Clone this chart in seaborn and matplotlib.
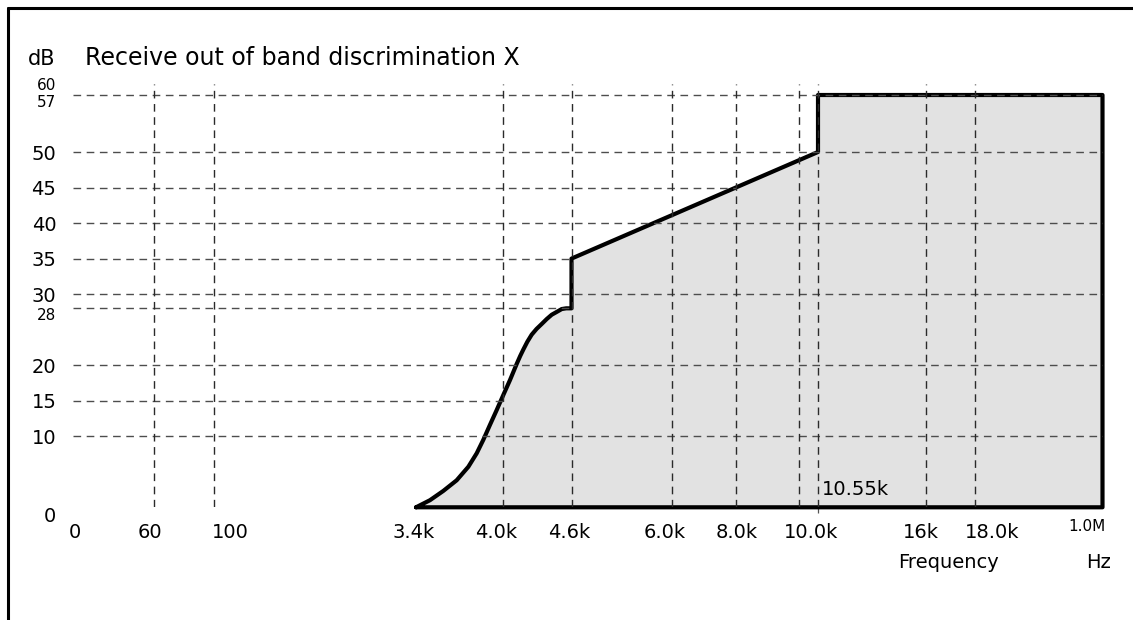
import numpy as np
import matplotlib
matplotlib.use("Agg")
import matplotlib.pyplot as plt
from matplotlib.lines import Line2D
from matplotlib.transforms import ScaledTranslation
import seaborn as sns

# S-shaped rise of the mask (Hz, dB)
rise_freq = [3400, 3497, 3589, 3682, 3763, 3821, 3867, 3913, 3960, 4007, 4065,
             4124, 4154, 4181, 4216, 4254, 4296, 4341, 4385, 4428, 4472, 4515, 4554, 4600]
rise_db = [0, 1.0, 2.3, 3.8, 5.7, 7.6, 9.5, 11.6, 13.7, 15.8, 17.9,
           20.2, 21.3, 22.2, 23.3, 24.3, 25.1, 25.8, 26.5, 27.1, 27.5, 27.9, 28.0, 28]
# rest of the mask, back to the start
mask_freq = [4600, 10550, 10550, 1.0e6, 1.0e6, 3400]
mask_db = [35, 50, 57, 57, 0, 0]

x_tick_freq = [0, 60, 100, 3400, 4000, 4600, 6000, 8000, 10000, 16000, 18000, 1.0e6]
x_tick_labels = ["0", "60", "100", "3.4k", "4.0k", "4.6k", "6.0k", "8.0k",
                 "10.0k", "16k", "18.0k", "1.0M"]
vgrid_freq = [60, 100, 4000, 4600, 6000, 8000, 10000, 10550, 16000, 18000]
y_tick_db = [0, 10, 15, 20, 28, 30, 35, 40, 45, 50, 57, 60]
hgrid_db = [10, 15, 20, 28, 30, 35, 40, 45, 50, 57]
hgrid_end = [1.0e6, 4000, 1.0e6, 4600, 1.0e6, 4600, 1.0e6, 8000, 1.0e6, 1.0e6]

outline_f = rise_freq + mask_freq
outline_db = rise_db + mask_db

sns.set_theme(style="ticks")
plt.rcParams["font.family"] = ["DejaVu Sans"]
plt.rcParams["text.color"] = "black"

W, H = 1133, 620
fig = plt.figure(figsize=(W / 100, H / 100), dpi=100)
x_left, x_right, y_bottom, y_top = 73, 1102.5, 507.3, 84
ax = fig.add_axes([x_left / W, 1 - y_bottom / H,
                   (x_right - x_left) / W, (y_bottom - y_top) / H])

# the frequency axis is not to scale: every break has its own place
x_breaks = [0, 60, 100, 3400, 4000, 4600, 6000, 8000, 10000, 10550, 16000, 18000, 1.0e6]
x_places = [0, 81.3, 141, 343, 429.5, 498.5, 598.5, 662.5, 726, 745, 853, 902, 1029.5]
y_breaks = [0, 50, 57, 60]
y_places = [0, 355.3, 412.3, 423.3]

ax.set_xscale("function", functions=(lambda v: np.interp(v, x_breaks, x_places),
                                     lambda p: np.interp(p, x_places, x_breaks)))
ax.set_yscale("function", functions=(lambda v: np.interp(v, y_breaks, y_places),
                                     lambda p: np.interp(p, y_places, y_breaks)))

ax.fill(outline_f, outline_db, color="#e2e2e2", lw=0, zorder=1)
sns.lineplot(x=outline_f, y=outline_db, sort=False, estimator=None, color="black",
             linewidth=3, solid_joinstyle="round", clip_on=False, zorder=2, ax=ax)

dash = (0, (5.5, 4.0))
ax.hlines(hgrid_db, 0, hgrid_end, colors="#4d4d4d", linewidth=1, linestyles=[dash], zorder=3)
ax.vlines(vgrid_freq, 0, 60, colors="#2a2a2a", linewidth=1, linestyles=[dash], zorder=3)

ax.set_xlim(0, 1.0e6)
ax.set_ylim(0, 60)
ax.set_xlabel("")
ax.set_ylabel("")
for s in ax.spines.values():
    s.set_visible(False)

ax.set_xticks(x_tick_freq, x_tick_labels)
ax.set_xticks(vgrid_freq + [3400], minor=True)
ax.set_yticks(y_tick_db, [str(v) for v in y_tick_db])
ax.set_yticks([10, 20, 30, 40], minor=True)
ax.tick_params(axis="x", which="major", length=0, pad=11, labelsize=14,
               labelcolor="black", bottom=True)
ax.tick_params(axis="x", which="minor", length=4.5, width=0.9, color="#555555",
               direction="out", bottom=True)
ax.tick_params(axis="y", which="major", length=0, pad=12, labelsize=14,
               labelcolor="black", left=True)
ax.tick_params(axis="y", which="minor", length=5.8, width=1, color="black",
               direction="out", left=True)

# the labels sit a little off their grid lines in the original
nudge = {"0": (2, 0), "60": (-4, 0), "100": (16, 0), "3.4k": (-2, 0), "4.0k": (-6, 0),
         "4.6k": (-2, 0), "6.0k": (-7, 0), "8.0k": (1, 0), "10.0k": (12, 0),
         "16k": (-5, 0), "18.0k": (17, 0), "1.0M": (-16, 4)}
for lab in ax.get_xticklabels():
    dx, dy = nudge.get(lab.get_text(), (0, 0))
    lab.set_transform(lab.get_transform() + ScaledTranslation(dx / 100, dy / 100, fig.dpi_scale_trans))
    if lab.get_text() == "1.0M":
        lab.set_fontsize(11)
for lab in ax.get_yticklabels():
    t = lab.get_text()
    if t in ("28", "57", "60"):
        lab.set_fontsize(11)
    if t in ("0", "28", "57"):
        lab.set_verticalalignment("top")

ax.annotate("10.55k", xy=(10550, 2.5), xytext=(3, 0), textcoords="offset points",
            ha="left", va="center", fontsize=14)

fig.text(28 / W, 1 - 65 / H, "dB", fontsize=15, va="baseline")
fig.text(85 / W, 1 - 65 / H, "Receive out of band discrimination X", fontsize=17, va="baseline")
fig.text(949 / W, 1 - 563 / H, "Frequency", fontsize=14, ha="center", va="center")
fig.text(1099 / W, 1 - 563 / H, "Hz", fontsize=14, ha="center", va="center")

# page frame
fig.add_artist(Line2D([8 / W, 8 / W], [0, 1 - 8 / H], color="black", lw=2.2,
                      transform=fig.transFigure))
fig.add_artist(Line2D([8 / W, 1], [1 - 8 / H, 1 - 8 / H], color="black", lw=2.2,
                      transform=fig.transFigure))

fig.savefig("out.png", dpi=100, facecolor="white")
